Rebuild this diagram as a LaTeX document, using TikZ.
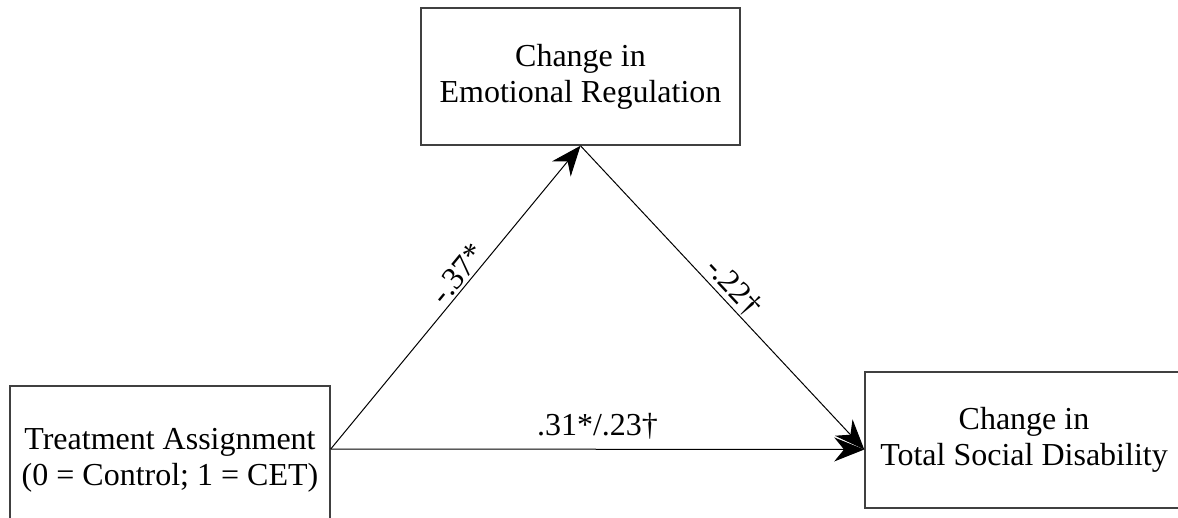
\documentclass[tikz,border=0pt]{standalone}
\usepackage{fontspec}
\setmainfont{Liberation Serif}
\usetikzlibrary{arrows.meta,positioning}

\begin{document}
\begin{tikzpicture}[x=0.5pt,y=-0.5pt,
    varbox/.style={draw=black!75,line width=0.75pt,align=center,
      font=\fontsize{16}{18}\selectfont,inner sep=0pt},
    effect/.style={-{Stealth[length=15pt,width=12pt]},line width=0.5pt},
    coef/.style={font=\fontsize{16}{18}\selectfont,inner sep=1pt}]
  \useasboundingbox (0,0) rectangle (1178,518);

  % the three variables
  \node[varbox,minimum width=159.5pt,minimum height=68.5pt]
    (emo) at (580.5,76.5) {Change in\\Emotional Regulation};
  \node[varbox,minimum width=160pt,minimum height=74pt]
    (treat) at (170,460) {Treatment Assignment\\(0 = Control; 1 = CET)};
  \node[varbox,minimum width=159pt,minimum height=68pt]
    (social) at (1024,440) {Change in\\Total Social Disability};

  % paths
  \draw[effect] ([yshift=5.5pt]treat.east)
    -- node[coef,sloped,above,pos=0.55] {-.37*} (emo.south);
  \draw[effect] (emo.south)
    -- node[coef,sloped,above,pos=0.5] {-.22†} ([yshift=-4.75pt]social.west);
  \draw[effect] ([yshift=5.5pt]treat.east)
    -- node[coef,above=4pt] {.31*/.23†} ([yshift=-4.75pt]social.west);
\end{tikzpicture}
\end{document}
